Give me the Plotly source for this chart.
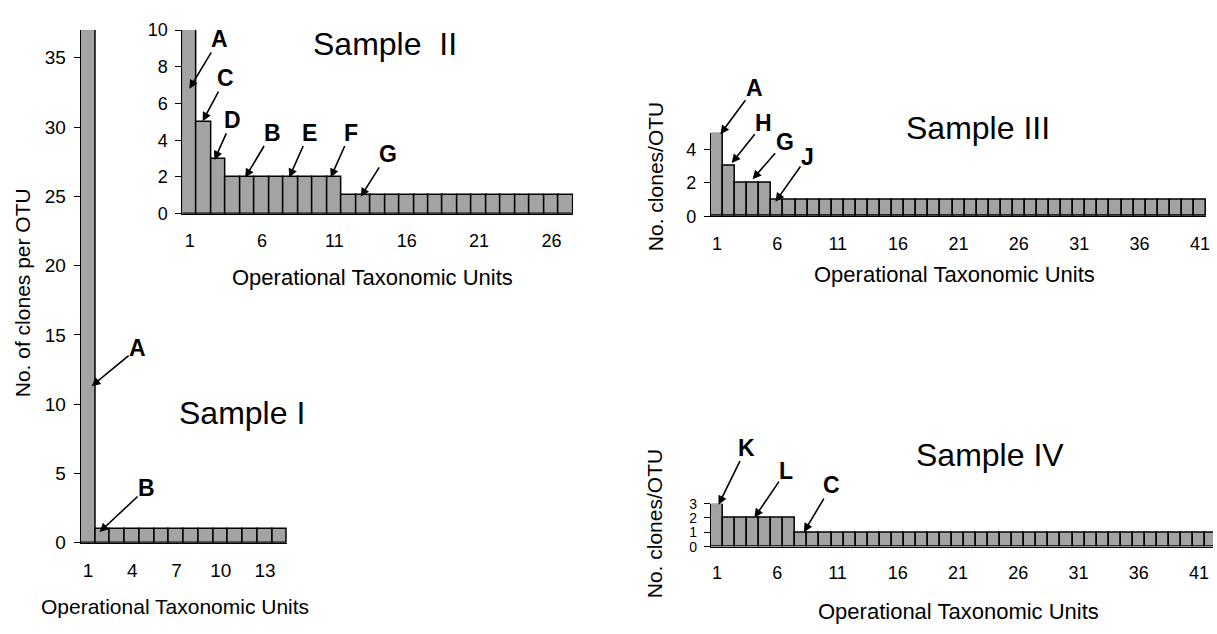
import plotly.graph_objects as go

W, H = 1217, 634

# ---------------- data ----------------
otu_1 = [1, 2, 3, 4, 5, 6, 7, 8, 9, 10, 11, 12, 13, 14]
clones_1 = [37, 1, 1, 1, 1, 1, 1, 1, 1, 1, 1, 1, 1, 1]

otu_2 = [1, 2, 3, 4, 5, 6, 7, 8, 9, 10, 11, 12, 13, 14, 15, 16, 17, 18, 19, 20,
         21, 22, 23, 24, 25, 26, 27]
clones_2 = [10, 5, 3, 2, 2, 2, 2, 2, 2, 2, 2, 1, 1, 1, 1, 1, 1, 1, 1, 1,
            1, 1, 1, 1, 1, 1, 1]

otu_3 = [1, 2, 3, 4, 5, 6, 7, 8, 9, 10, 11, 12, 13, 14, 15, 16, 17, 18, 19, 20,
         21, 22, 23, 24, 25, 26, 27, 28, 29, 30, 31, 32, 33, 34, 35, 36, 37, 38, 39, 40, 41]
clones_3 = [5, 3, 2, 2, 2, 1, 1, 1, 1, 1, 1, 1, 1, 1, 1, 1, 1, 1, 1, 1,
            1, 1, 1, 1, 1, 1, 1, 1, 1, 1, 1, 1, 1, 1, 1, 1, 1, 1, 1, 1, 1]

otu_4 = [1, 2, 3, 4, 5, 6, 7, 8, 9, 10, 11, 12, 13, 14, 15, 16, 17, 18, 19, 20,
         21, 22, 23, 24, 25, 26, 27, 28, 29, 30, 31, 32, 33, 34, 35, 36, 37, 38, 39, 40, 41, 42]
clones_4 = [3, 2, 2, 2, 2, 2, 2, 1, 1, 1, 1, 1, 1, 1, 1, 1, 1, 1, 1, 1,
            1, 1, 1, 1, 1, 1, 1, 1, 1, 1, 1, 1, 1, 1, 1, 1, 1, 1, 1, 1, 1, 1]

ticks_1 = [1, 4, 7, 10, 13]
ticks_2 = [1, 6, 11, 16, 21, 26]
ticks_34 = [1, 6, 11, 16, 21, 26, 31, 36, 41]
yticks_1 = [0, 5, 10, 15, 20, 25, 30, 35]
yticks_2 = [0, 2, 4, 6, 8, 10]
yticks_3 = [0, 2, 4]
yticks_4 = [0, 1, 2, 3]

titles = ["Sample I", "Sample  II", "Sample III", "Sample IV"]
x_title = "Operational Taxonomic Units"
y_title_1 = "No. of clones per OTU"
y_title_34 = "No. clones/OTU"

# arrow labels: (letter, OTU, clones at arrow tip)
labels_1 = [("A", 1.24, 11.3), ("B", 1.78, 0.77)]
labels_2 = [("A", 0.98, 6.8), ("C", 1.9, 5.04), ("D", 2.71, 2.93), ("B", 4.84, 1.97),
            ("E", 7.88, 1.97), ("F", 10.75, 1.97), ("G", 12.82, 0.92)]
labels_3 = [("A", 1.28, 4.92), ("H", 2.22, 3.19), ("G", 3.95, 2.22), ("J", 5.84, 0.87)]
labels_4 = [("K", 1.13, 2.93), ("L", 4.11, 2.03), ("C", 8.21, 1.01)]

# ---------------- styling / layout ----------------
FONT = "Liberation Sans, Arial, sans-serif"


def px_x(x):
    return x / W


def px_y(y):
    return 1 - y / H


fig = go.Figure()

bar_style = dict(
    marker=dict(color="#a3a3a3", line=dict(color="black", width=1.5)),
    width=1,
    showlegend=False,
    hoverinfo="x+y",
)

fig.add_trace(go.Bar(x=otu_1, y=clones_1, xaxis="x", yaxis="y", **bar_style))
fig.add_trace(go.Bar(x=otu_2, y=clones_2, xaxis="x2", yaxis="y2", **bar_style))
fig.add_trace(go.Bar(x=otu_3, y=clones_3, xaxis="x3", yaxis="y3", **bar_style))
fig.add_trace(go.Bar(x=otu_4, y=clones_4, xaxis="x4", yaxis="y4", **bar_style))


def xaxis(domain, rng, ticks, anchor, size=18, standoff=10):
    return dict(
        domain=domain, range=rng, anchor=anchor, tickvals=ticks, ticktext=[str(t) for t in ticks],
        showline=True, linecolor="black", linewidth=1, showgrid=False, zeroline=False,
        ticks="", tickfont=dict(family=FONT, size=size, color="black"),
        ticklabelstandoff=standoff, fixedrange=True,
    )


def yaxis(domain, rng, ticks, anchor, size=18):
    return dict(
        domain=domain, range=rng, anchor=anchor, tickvals=ticks,
        showline=True, linecolor="black", linewidth=1, showgrid=False, zeroline=False,
        ticks="outside", ticklen=6, tickcolor="black", tickwidth=1,
        tickfont=dict(family=FONT, size=size, color="black"), fixedrange=True,
        ticklabelstandoff=4,
    )


fig.update_layout(
    width=W, height=H,
    margin=dict(l=0, r=0, t=0, b=0),
    paper_bgcolor="white", plot_bgcolor="rgba(0,0,0,0)",
    bargap=0, barmode="overlay",
    xaxis=xaxis([px_x(81), px_x(288)], [0.5, 14.5], ticks_1, "y", 19, 10),
    yaxis=yaxis([px_y(551), px_y(20.8)], [0, 37], yticks_1, "x", 19),
    xaxis2=xaxis([px_x(183), px_x(575)], [0.5, 27.5], ticks_2, "y2", 18, 11),
    yaxis2=yaxis([px_y(210.7), px_y(20.7)], [0, 10], yticks_2, "x2", 18),
    xaxis3=xaxis([px_x(713.3), px_x(1210)], [0.5, 41.5], ticks_34, "y3", 18, 11),
    yaxis3=yaxis([px_y(213.3), px_y(127.05)], [0, 5], yticks_3, "x3", 18),
    xaxis4=xaxis([px_x(713.3), 1.0], [0.5, 42.16], ticks_34, "y4", 18, 10),
    yaxis4=yaxis([px_y(555), px_y(510.6)], [0, 3], yticks_4, "x4", 14),
    font=dict(family=FONT, color="black"),
)

annotations = []

# arrow offsets (pixels from arrow tip to letter centre)
offsets_1 = [(46, -38), (47, -44)]
offsets_2 = [(30, -50), (23, -43), (18, -40), (27, -45), (20, -45), (20, -45), (27, -43)]
offsets_3 = [(34, -46), (32, -40), (32, -37), (32, -45)]
offsets_4 = [(28, -57), (32, -47), (28, -47)]

for labels, offsets, axn in [(labels_1, offsets_1, ""), (labels_2, offsets_2, "2"),
                             (labels_3, offsets_3, "3"), (labels_4, offsets_4, "4")]:
    for (letter, xv, yv), (ax, ay) in zip(labels, offsets):
        annotations.append(dict(
            x=xv, y=yv, xref="x" + axn, yref="y" + axn, text="<b>%s</b>" % letter,
            showarrow=True, ax=ax, ay=ay, arrowhead=2, arrowsize=1.1, arrowwidth=1.6,
            arrowcolor="black", font=dict(family=FONT, size=23, color="black"),
            borderpad=0, standoff=0,
        ))

# sample titles
title_pos = [(242.5, 417), (386.7, 35), (981.6, 121.7), (993, 460)]
for t, (x, y) in zip(titles, title_pos):
    annotations.append(dict(x=px_x(x), y=px_y(y), xref="paper", yref="paper", text=t,
                            showarrow=False, xanchor="center", yanchor="middle",
                            font=dict(family=FONT, size=32, color="black")))

# axis titles
xt_pos = [(176, 617, 21), (374, 276.7, 22), (957.7, 273.3, 22), (961.6, 621.7, 22)]
for x, y, s in xt_pos:
    annotations.append(dict(x=px_x(x), y=px_y(y), xref="paper", yref="paper", text=x_title,
                            showarrow=False, xanchor="center", yanchor="middle",
                            font=dict(family=FONT, size=s, color="black")))

yt_pos = [(y_title_1, 22, 292), (y_title_34, 657, 172), (y_title_34, 657, 531)]
for t, x, y in yt_pos:
    annotations.append(dict(x=px_x(x), y=px_y(y), xref="paper", yref="paper", text=t,
                            showarrow=False, xanchor="center", yanchor="middle", textangle=-90,
                            font=dict(family=FONT, size=21, color="black")))

fig.update_layout(annotations=annotations)

fig.write_html("out.html", post_script="document.body.style.margin='0';",
               config={"displayModeBar": False})
